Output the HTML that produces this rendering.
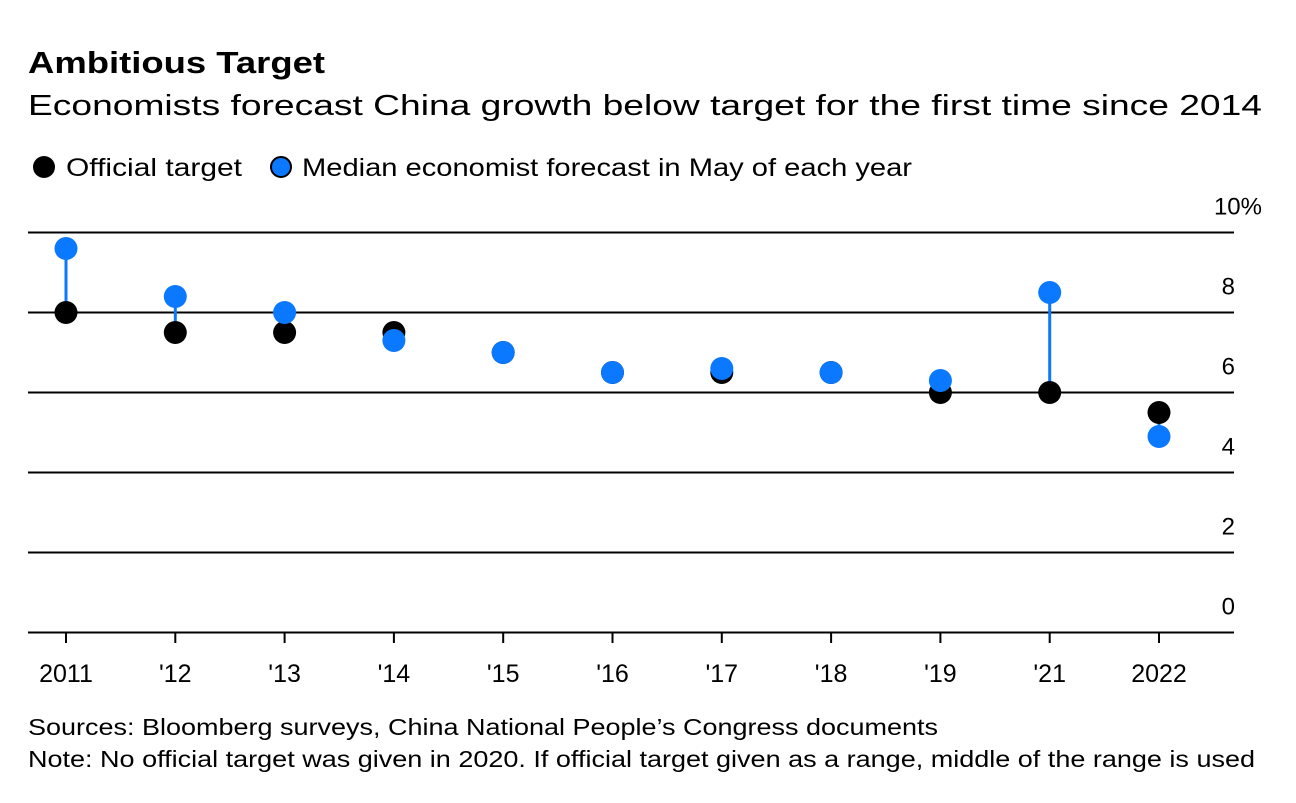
<!DOCTYPE html>
<html><head><meta charset="utf-8"><style>
body{margin:0;background:#fff;width:1296px;height:798px;overflow:hidden;font-family:"Liberation Sans",sans-serif;}
svg text{font-family:"Liberation Sans",sans-serif;}
</style></head><body>
<svg id="chart" width="1296" height="798" xmlns="http://www.w3.org/2000/svg">
<text x="28" y="73" font-size="31" font-weight="bold" fill="#000" textLength="297" lengthAdjust="spacingAndGlyphs">Ambitious Target</text>
<text x="28" y="115" font-size="29" fill="#000" textLength="1234" lengthAdjust="spacingAndGlyphs">Economists forecast China growth below target for the first time since 2014</text>
<g>
<circle cx="44" cy="167" r="11" fill="#000"/>
<text x="66" y="176" font-size="25" textLength="176" lengthAdjust="spacingAndGlyphs">Official target</text>
<circle cx="281" cy="167" r="10" fill="#0a78ff" stroke="#000" stroke-width="2"/>
<text x="302" y="176" font-size="25" textLength="610" lengthAdjust="spacingAndGlyphs">Median economist forecast in May of each year</text>
</g>
<g id="grid"></g>
<g id="xaxis"></g>
<g id="marks"></g>
<text x="28" y="735" font-size="23" textLength="910" lengthAdjust="spacingAndGlyphs">Sources: Bloomberg surveys, China National People’s Congress documents</text>
<text x="28" y="767" font-size="23" textLength="1227" lengthAdjust="spacingAndGlyphs">Note: No official target was given in 2020. If official target given as a range, middle of the range is used</text>
</svg>
<script>
const categories=["2011","'12","'13","'14","'15","'16","'17","'18","'19","'21","2022"];
const officialTarget=[8,7.5,7.5,7.5,7,6.5,6.5,6.5,6,6,5.5];
const forecast=[9.6,8.4,8.0,7.3,7.0,6.5,6.6,6.5,6.3,8.5,4.9];
const yTicks=[0,2,4,6,8,10];
const yTickLabels=["0","2","4","6","8","10%"];
const NS="http://www.w3.org/2000/svg";
const x=i=>66+i*109.3;
const y=v=>632.5-v*40;
function mk(tag,attrs,parent){const e=document.createElementNS(NS,tag);for(const k in attrs)e.setAttribute(k,attrs[k]);parent.appendChild(e);return e;}
const grid=document.getElementById('grid'),xa=document.getElementById('xaxis'),marks=document.getElementById('marks');
yTicks.forEach((t,i)=>{
  const l=mk('line',{x1:28,x2:1234,y1:y(t),y2:y(t),stroke:'#000','stroke-width':2},grid);
  
  
  const last=i===yTicks.length-1;
  const tx=mk('text',{x:last?1262:1235,y:y(t)-18,'text-anchor':'end','font-size':24},grid);
  tx.textContent=yTickLabels[i];
  
  
});
categories.forEach((c,i)=>{
  const tk=mk('line',{x1:x(i),x2:x(i),y1:632,y2:643,stroke:'#000','stroke-width':2},xa);
  
  
  const tx=mk('text',{x:x(i),y:682,'text-anchor':'middle','font-size':25},xa);
  tx.textContent=c;
  
  
  const st=mk('line',{x1:x(i),x2:x(i),y1:y(officialTarget[i]),y2:y(forecast[i]),stroke:'#0a78ff','stroke-width':3},marks);
  
  
});
categories.forEach((c,i)=>{
  const a=mk('circle',{cx:x(i),cy:y(officialTarget[i]),r:11.5,fill:'#000'},marks);
  
  
});
categories.forEach((c,i)=>{
  const b=mk('circle',{cx:x(i),cy:y(forecast[i]),r:11.5,fill:'#0a78ff'},marks);
  
  
});
</script>
</body></html>
